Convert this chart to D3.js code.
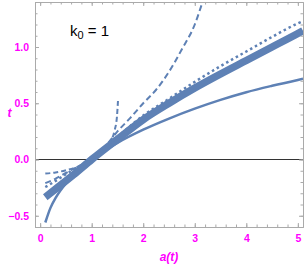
<!DOCTYPE html>
<html>
<head>
<meta charset="utf-8">
<script src="https://cdn.jsdelivr.net/npm/d3@7"></script>
<style>
  body { margin: 0; background: #fff; }
  svg { display: block; }
  .tick-label { font-family: "Liberation Sans Narrow", "Liberation Sans", Arial, sans-serif; font-weight: bold; font-size: 10.5px; fill: #ff00ff; }
</style>
</head>
<body>
<svg id="chart" width="305" height="273"></svg>
<script>
// scale factor a(t) values where each curve was read
const thinA  = [0.1, 0.2, 0.3, 0.5, 0.75, 1, 1.5, 2, 2.5, 3, 3.5, 4, 4.5, 5, 5.1];
const thinT  = [-0.56, -0.43, -0.342, -0.213, -0.094, 0, 0.148, 0.265, 0.364, 0.452, 0.53, 0.598, 0.655, 0.707, 0.717];

const thickA = [0.1, 0.35, 0.65, 1, 1.5, 2, 2.5, 3, 3.5, 4, 4.5, 5, 5.1];
const thickT = [-0.335, -0.245, -0.135, 0, 0.18, 0.355, 0.50, 0.635, 0.76, 0.88, 1.0, 1.12, 1.145];

const dotA = [0.1, 0.3, 0.5, 0.75, 1, 1.5, 2, 2.5, 3, 3.5, 4, 4.5, 5, 5.1];
const dotT = [-0.245, -0.19, -0.13, -0.065, 0, 0.2, 0.39, 0.54, 0.69, 0.83, 0.96, 1.09, 1.21, 1.23];

const longDashA = [0.1, 0.3, 0.5, 0.75, 1, 1.25, 1.5, 1.75, 2, 2.25, 2.5, 2.75, 3, 3.15];
const longDashT = [-0.21, -0.17, -0.12, -0.06, 0, 0.11, 0.25, 0.37, 0.5, 0.62, 0.78, 0.98, 1.2, 1.4];

const shortDashA = [0.1, 0.3, 0.5, 0.75, 1, 1.2, 1.35, 1.44, 1.49, 1.51];
const shortDashT = [-0.125, -0.115, -0.095, -0.06, 0, 0.07, 0.15, 0.25, 0.38, 0.52];

const xTicks = [0, 1, 2, 3, 4, 5];
const yTicks = [-0.5, 0.0, 0.5, 1.0];

const width = 305;
const height = 273;
const margin = { top: 2, right: 2, bottom: 46, left: 35 };
const blue = '#5e81b5';
const magenta = '#ff00ff';

const xScale = d3.scaleLinear()
  .domain([-0.1, 5.1])
  .range([margin.left, width - margin.right]);

const yScale = d3.scaleLinear()
  .domain([-0.6, 1.4])
  .range([height - margin.bottom, margin.top]);

const svg = d3.select('#chart');

svg.append('clipPath').attr('id', 'plot-clip')
  .append('rect')
  .attr('x', margin.left)
  .attr('y', margin.top)
  .attr('width', width - margin.left - margin.right)
  .attr('height', height - margin.top - margin.bottom);

// zero line
svg.append('line')
  .attr('x1', xScale(-0.1)).attr('x2', xScale(5.1))
  .attr('y1', yScale(0)).attr('y2', yScale(0))
  .attr('stroke', '#333').attr('stroke-width', 1);

const line = d3.line()
  .x(d => xScale(d[0]))
  .y(d => yScale(d[1]))
  .curve(d3.curveMonotoneX);

const zip = (a, t) => a.map((v, i) => [v, t[i]]);

const curves = [
  { data: zip(thinA, thinT), width: 2.5, dash: null },
  { data: zip(thickA, thickT), width: 7.5, dash: null },
  { data: zip(dotA, dotT), width: 2.5, dash: '2.5,3' },
  { data: zip(longDashA, longDashT), width: 2, dash: '6,3.5' },
  { data: zip(shortDashA, shortDashT), width: 2, dash: '5,3' }
];

const g = svg.append('g').attr('clip-path', 'url(#plot-clip)');
curves.forEach(c => {
  g.append('path')
    .attr('d', line(c.data))
    .attr('fill', 'none')
    .attr('stroke', blue)
    .attr('stroke-width', c.width)
    .attr('stroke-dasharray', c.dash);
});

// frame axes with ticks on all sides
const frameColor = '#aaa';
const xMinor = d3.range(0, 5.01, 0.2);
const yMinor = d3.range(-0.6, 1.41, 0.1);

function styleAxis(sel) {
  sel.select('.domain').attr('stroke', frameColor);
  sel.selectAll('.tick line').attr('stroke', frameColor);
}

const bottomMajor = d3.axisBottom(xScale).tickValues(xTicks).tickSizeInner(-4).tickSizeOuter(0).tickPadding(8).tickFormat(d3.format('d'));
const bottomMinor = d3.axisBottom(xScale).tickValues(xMinor).tickSizeInner(-2.5).tickSizeOuter(0).tickFormat('');
const topMajor = d3.axisTop(xScale).tickValues(xTicks).tickSizeInner(-4).tickSizeOuter(0).tickFormat('');
const topMinor = d3.axisTop(xScale).tickValues(xMinor).tickSizeInner(-2.5).tickSizeOuter(0).tickFormat('');
const leftMajor = d3.axisLeft(yScale).tickValues(yTicks).tickSizeInner(-4).tickSizeOuter(0).tickPadding(6).tickFormat(d3.format('.1f'));
const leftMinor = d3.axisLeft(yScale).tickValues(yMinor).tickSizeInner(-2.5).tickSizeOuter(0).tickFormat('');
const rightMajor = d3.axisRight(yScale).tickValues(yTicks).tickSizeInner(-4).tickSizeOuter(0).tickFormat('');
const rightMinor = d3.axisRight(yScale).tickValues(yMinor).tickSizeInner(-2.5).tickSizeOuter(0).tickFormat('');

const yB = height - margin.bottom;
const xR = width - margin.right;

[bottomMinor, bottomMajor].forEach(ax => svg.append('g').attr('transform', `translate(0,${yB})`).call(ax).call(styleAxis));
[topMinor, topMajor].forEach(ax => svg.append('g').attr('transform', `translate(0,${margin.top})`).call(ax).call(styleAxis));
[leftMinor, leftMajor].forEach(ax => svg.append('g').attr('transform', `translate(${margin.left},0)`).call(ax).call(styleAxis));
[rightMinor, rightMajor].forEach(ax => svg.append('g').attr('transform', `translate(${xR},0)`).call(ax).call(styleAxis));

svg.selectAll('.tick text')
  .attr('class', 'tick-label')
  .attr('fill', magenta);

// axis titles
svg.append('text')
  .attr('x', 169).attr('y', 261)
  .attr('text-anchor', 'middle')
  .attr('font-family', '"Liberation Sans Narrow", "Liberation Sans", Arial, sans-serif')
  .attr('font-weight', 'bold').attr('font-style', 'italic')
  .attr('font-size', '12px').attr('fill', magenta)
  .text('a(t)');

svg.append('text')
  .attr('x', 9.5).attr('y', 117)
  .attr('text-anchor', 'middle')
  .attr('font-family', '"Liberation Sans Narrow", "Liberation Sans", Arial, sans-serif')
  .attr('font-weight', 'bold').attr('font-style', 'italic')
  .attr('font-size', '12px').attr('fill', magenta)
  .text('t');

// annotation
const ann = svg.append('text')
  .attr('x', 70).attr('y', 36)
  .attr('font-family', '"Liberation Sans Narrow", "Liberation Sans", Arial, sans-serif')
  .attr('font-size', '15px').attr('fill', '#000');
ann.append('tspan').text('k');
ann.append('tspan').attr('dy', 3).attr('font-size', '11px').text('0');
ann.append('tspan').attr('dy', -3).text(' = 1');
</script>
</body>
</html>
